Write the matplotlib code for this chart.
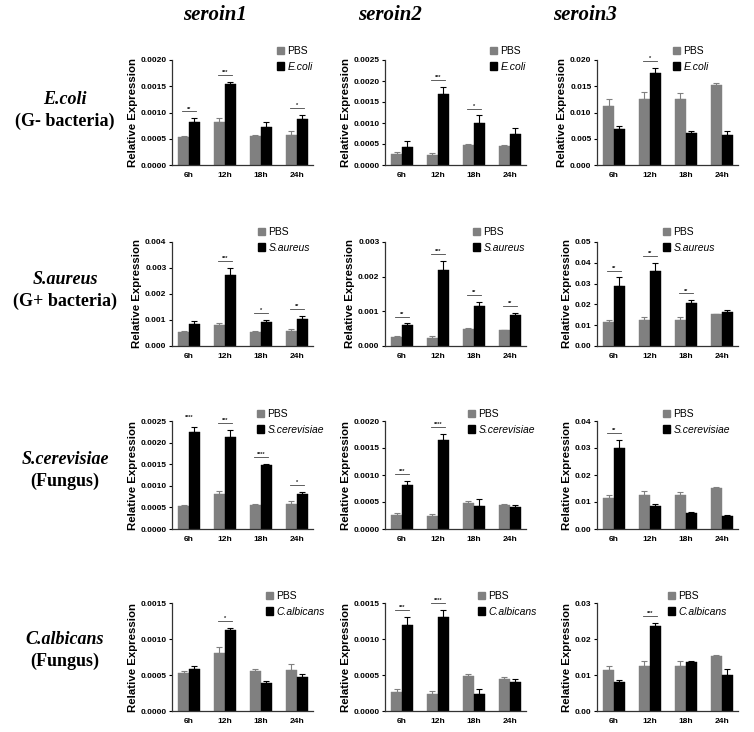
import matplotlib
matplotlib.use('Agg')
import matplotlib.pyplot as plt
import numpy as np
from matplotlib.patches import Patch
from matplotlib.ticker import FormatStrFormatter, MultipleLocator

plt.rcParams['font.family'] = ['Liberation Sans', 'DejaVu Sans']

times = ['6h', '12h', '18h', '24h']
genes = ['seroin1', 'seroin2', 'seroin3']
pathogens = ['E.coli', 'S.aureus', 'S.cerevisiae', 'C.albicans']
groups = ['(G- bacteria)', '(G+ bacteria)', '(Fungus)', '(Fungus)']

# PBS control, one list per gene (same control in every row)
pbs_mean = [[0.00053, 0.00081, 0.00055, 0.00057],
            [0.00026, 0.00024, 0.00048, 0.00045],
            [0.0113, 0.0126, 0.0125, 0.0153]]
pbs_err = [[0.00003, 0.00008, 0.00003, 0.00008],
           [0.00004, 0.00004, 0.00003, 0.00002],
           [0.0013, 0.0013, 0.0013, 0.0003]]

ecoli_mean = [[0.00082, 0.00154, 0.00073, 0.00087],
              [0.00044, 0.00168, 0.00100, 0.00073],
              [0.0068, 0.0175, 0.0061, 0.0058]]
ecoli_err = [[0.00007, 0.00005, 0.00008, 0.00008],
             [0.00012, 0.00018, 0.00018, 0.00014],
             [0.0006, 0.0010, 0.0003, 0.0006]]
ecoli_sig = [['**', '***', '', '*'], ['', '***', '*', ''], ['', '*', '', '']]

saureus_mean = [[0.00085, 0.00272, 0.00093, 0.00105],
                [0.00060, 0.00220, 0.00115, 0.00090],
                [0.029, 0.036, 0.0205, 0.0165]]
saureus_err = [[0.00010, 0.00028, 0.00007, 0.00010],
               [0.00005, 0.00025, 0.00012, 0.00005],
               [0.004, 0.004, 0.0015, 0.0008]]
saureus_sig = [['', '***', '*', '**'], ['**', '***', '**', '**'], ['**', '**', '**', '']]

scer_mean = [[0.00224, 0.00212, 0.00147, 0.00082],
             [0.00082, 0.00164, 0.00042, 0.00040],
             [0.030, 0.0085, 0.0060, 0.0050]]
scer_err = [[0.00012, 0.00017, 0.00003, 0.00004],
            [0.00007, 0.00012, 0.00014, 0.00005],
            [0.003, 0.0007, 0.0003, 0.0002]]
scer_sig = [['****', '***', '****', '*'], ['***', '****', '', ''], ['**', '', '', '']]

calb_mean = [[0.00058, 0.00112, 0.00039, 0.00047],
             [0.00120, 0.00130, 0.00024, 0.00040],
             [0.0080, 0.0235, 0.0135, 0.0100]]
calb_err = [[0.00005, 0.00003, 0.00002, 0.00004],
            [0.00010, 0.00010, 0.00006, 0.00005],
            [0.0005, 0.0010, 0.0003, 0.0018]]
calb_sig = [['', '*', '', ''], ['***', '****', '', ''], ['', '***', '', '']]

y_top = [[0.0020, 0.0025, 0.020], [0.004, 0.003, 0.05],
         [0.0025, 0.0020, 0.04], [0.0015, 0.0015, 0.03]]
y_step = [[0.0005, 0.0005, 0.005], [0.001, 0.001, 0.01],
          [0.0005, 0.0005, 0.01], [0.0005, 0.0005, 0.01]]
y_fmt = [['%.4f', '%.4f', '%.3f'], ['%.3f', '%.3f', '%.2f'],
         ['%.4f', '%.4f', '%.2f'], ['%.4f', '%.4f', '%.2f']]

means = [ecoli_mean, saureus_mean, scer_mean, calb_mean]
errs = [ecoli_err, saureus_err, scer_err, calb_err]
sigs = [ecoli_sig, saureus_sig, scer_sig, calb_sig]

# layout in pixels
W, H = 754, 732
col_left = [172, 385, 597]
ax_w = 141
row_top = [60, 242, 421, 603]
row_bot = [165, 346, 529, 711]
leg_x = [[277, 490, 673], [258, 473, 663], [257, 468, 663], [266, 478, 668]]
leg_y = [52, 233, 415, 597]
gray = '#808080'
bw = 0.3

fig = plt.figure(figsize=(W / 100, H / 100), dpi=100)

for r in range(4):
    for c in range(3):
        ax = fig.add_axes([col_left[c] / W, 1 - row_bot[r] / H, ax_w / W,
                           (row_bot[r] - row_top[r]) / H])
        x = np.arange(4)
        pm, pe = pbs_mean[c], pbs_err[c]
        tm, te = means[r][c], errs[r][c]
        ax.bar(x - bw / 2, pm, bw, color=gray, edgecolor=gray, linewidth=0.3)
        ax.bar(x + bw / 2, tm, bw, color='black', edgecolor='black', linewidth=0.3)
        ax.errorbar(x - bw / 2, pm, yerr=[np.zeros(4), pe], fmt='none',
                    ecolor=gray, elinewidth=0.8, capsize=2, capthick=0.8)
        ax.errorbar(x + bw / 2, tm, yerr=[np.zeros(4), te], fmt='none',
                    ecolor='black', elinewidth=0.8, capsize=2, capthick=0.8)
        top = y_top[r][c]
        for i, s in enumerate(sigs[r][c]):
            if not s:
                continue
            yl = max(pm[i] + pe[i], tm[i] + te[i]) + 0.065 * top
            ax.plot([i - 0.2, i + 0.2], [yl, yl], color='#444444', lw=0.6)
            ax.text(i, yl, s, ha='center', va='bottom', fontsize=4,
                    fontweight='bold', color='#222222')
        ax.set_xlim(-0.47, 3.45)
        ax.set_ylim(0, top)
        ax.yaxis.set_major_locator(MultipleLocator(y_step[r][c]))
        ax.yaxis.set_major_formatter(FormatStrFormatter(y_fmt[r][c]))
        ax.set_xticks(x)
        ax.set_xticklabels(times, fontsize=6, fontweight='bold')
        ax.tick_params(axis='x', length=0, pad=5)
        ax.tick_params(axis='y', labelsize=6, length=2.5, width=0.8, pad=1.5)
        for lab in ax.get_yticklabels():
            lab.set_fontweight('bold')
        for sp in ['top', 'right']:
            ax.spines[sp].set_visible(False)
        for sp in ['left', 'bottom']:
            ax.spines[sp].set_linewidth(0.9)
            ax.spines[sp].set_color('#333333')
        ax.set_ylabel('Relative Expression', fontsize=8.2, fontweight='bold',
                      labelpad=2)
        handles = [Patch(color=gray), Patch(color='black')]
        leg = ax.legend(handles, ['PBS', pathogens[r]], loc='upper left',
                        bbox_to_anchor=(leg_x[r][c] / W, 1 - (leg_y[r] - 6) / H),
                        bbox_transform=fig.transFigure, frameon=False,
                        fontsize=7.5, handlelength=0.7, handleheight=0.7,
                        handletextpad=0.3, labelspacing=0.55, borderpad=0,
                        borderaxespad=0)
        leg.get_texts()[1].set_style('italic')

title_x = [215, 390, 585]
for c in range(3):
    fig.text(title_x[c] / W, 1 - 15 / H, genes[c], ha='center', va='center',
             family='Liberation Serif', fontsize=15, fontweight='bold',
             style='italic')

lab_y = [100, 280, 460, 640]
for r in range(4):
    fig.text(65 / W, 1 - lab_y[r] / H, pathogens[r], ha='center', va='center',
             family='Liberation Serif', fontsize=13, fontweight='bold',
             style='italic')
    fig.text(65 / W, 1 - (lab_y[r] + 21) / H, groups[r], ha='center',
             va='center', family='Liberation Serif', fontsize=13,
             fontweight='bold')

fig.savefig('out.png', dpi=100)
